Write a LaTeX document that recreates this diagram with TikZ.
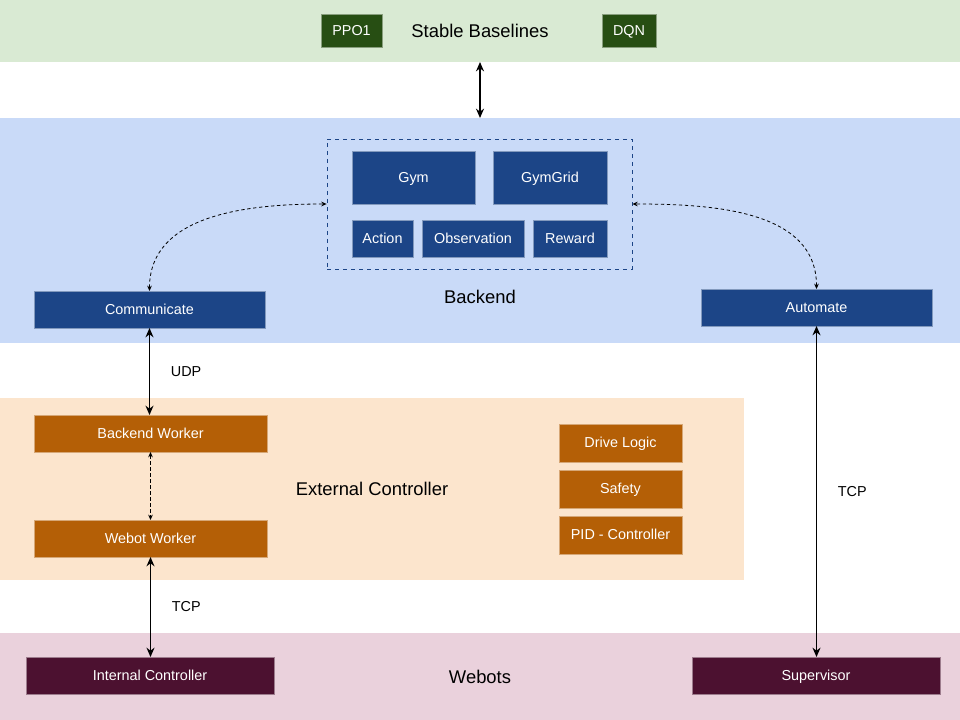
\documentclass[tikz,border=0pt]{standalone}
\usepackage{fontspec}
\setmainfont{Liberation Sans}
\usepackage{xcolor}
\usetikzlibrary{positioning,arrows.meta,fit}

\definecolor{bandgreen}{HTML}{D9EAD3}
\definecolor{bandblue}{HTML}{C9DAF8}
\definecolor{bandorange}{HTML}{FCE5CD}
\definecolor{bandpink}{HTML}{EAD1DC}
\definecolor{darkgreen}{HTML}{274E13}
\definecolor{darkblue}{HTML}{1C4587}
\definecolor{darkorange}{HTML}{B45F06}
\definecolor{darkplum}{HTML}{4C1130}

\begin{document}
\begin{tikzpicture}[
    x=0.75pt, y=-0.75pt,
    font=\fontsize{10.8}{12}\selectfont,
    node distance=6pt,
    box/.style={
        rectangle, draw=#1!55!white, line width=0.4pt,
        fill=#1, text=white,
        inner sep=0pt, outer sep=0pt,
        text height=0.72em, text depth=0pt,
        minimum height=27.75pt, align=center
    },
    band/.style={
        rectangle, fill=#1, inner sep=0pt, outer sep=0pt,
        minimum width=720pt, font=\fontsize{13.8}{16}\selectfont
    },
    dashbox/.style={
        rectangle, draw=darkblue, dashed, line width=0.6pt,
        inner xsep=18.75pt, inner ysep=9pt
    },
    arrow/.style={{Stealth[length=7pt,width=6pt]}-{Stealth[length=7pt,width=6pt]}, line width=1.4pt, black},
    dasharrow/.style={{Stealth[length=4pt,width=3.5pt]}-{Stealth[length=4pt,width=3.5pt]}, line width=0.6pt, black, dash pattern=on 2.5pt off 2pt}
]
\useasboundingbox (0,0) rectangle (960,720);

\node[band=bandgreen, minimum height=46.5pt] (sbband) at (480,31) {Stable Baselines};
\node[band=bandblue, minimum height=168.75pt] (beband) at (480,230.5) {};
\node[band=bandorange, minimum width=558pt, minimum height=136.5pt] (ecband) at (372,488.5) {External Controller};
\node[band=bandpink, minimum height=66pt] (wbband) at (480,676.5) {Webots};
\node[font=\fontsize{13.8}{16}\selectfont] (belabel) at (480,297) {Backend};

\node[box=darkgreen, minimum width=45.75pt, minimum height=24.75pt] (ppo) at (351.5,30.5) {PPO1};
\node[box=darkgreen, minimum width=40.5pt, minimum height=24.75pt] (dqn) at (629,30.5) {DQN};

\node[box=darkblue, minimum width=92.25pt, minimum height=39.75pt] (gym) at (413.5,177.5) {Gym};
\node[box=darkblue, minimum width=85.5pt, minimum height=39.75pt, right=13.5pt of gym] (gymgrid) {GymGrid};
\node[box=darkblue, minimum width=45.75pt, below=12pt of gym.south west, anchor=north west] (action) {Action};
\node[box=darkblue, minimum width=76.5pt, right=6.75pt of action] (obs) {Observation};
\node[box=darkblue, minimum width=55.5pt, right=6.75pt of obs] (reward) {Reward};
\node[dashbox, fit=(gym)(gymgrid)(action)(reward)] (envbox) {};

\node[box=darkblue, minimum width=173.25pt] (comm) at (149.5,309.5) {Communicate};
\node[box=darkblue, minimum width=173.25pt] (auto) at (816.5,307.5) {Automate};

\node[box=darkorange, minimum width=174.75pt] (bworker) at (150.5,433.5) {Backend Worker};
\node[box=darkorange, minimum width=174.75pt, below=51pt of bworker] (wworker) {Webot Worker};

\node[box=darkorange, minimum width=92.25pt, minimum height=28.5pt] (drive) at (620.5,443) {Drive Logic};
\node[box=darkorange, minimum width=92.25pt, minimum height=28.5pt, below=of drive] (safety) {Safety};
\node[box=darkorange, minimum width=92.25pt, minimum height=28.5pt, below=of safety] (pid) {PID - Controller};

\node[box=darkplum, minimum width=186pt] (intctrl) at (150,675.5) {Internal Controller};
\node[box=darkplum, minimum width=186pt] (super) at (816,675.5) {Supervisor};

\draw[arrow] (sbband.south) -- (beband.north);
\draw[dasharrow] (comm.north) to[out=90, in=180] (envbox.west);
\draw[dasharrow] (auto.north) to[out=90, in=0] (envbox.east);
\draw[arrow] (comm.south) -- (comm.south |- bworker.north) node[midway, right=12pt] {UDP};
\draw[dasharrow] (bworker.south) -- (wworker.north);
\draw[arrow] (wworker.south) -- (wworker.south |- intctrl.north) node[midway, right=12pt] {TCP};
\draw[arrow] (auto.south) -- (auto.south |- super.north) node[midway, right=12pt] {TCP};

\end{tikzpicture}
\end{document}
